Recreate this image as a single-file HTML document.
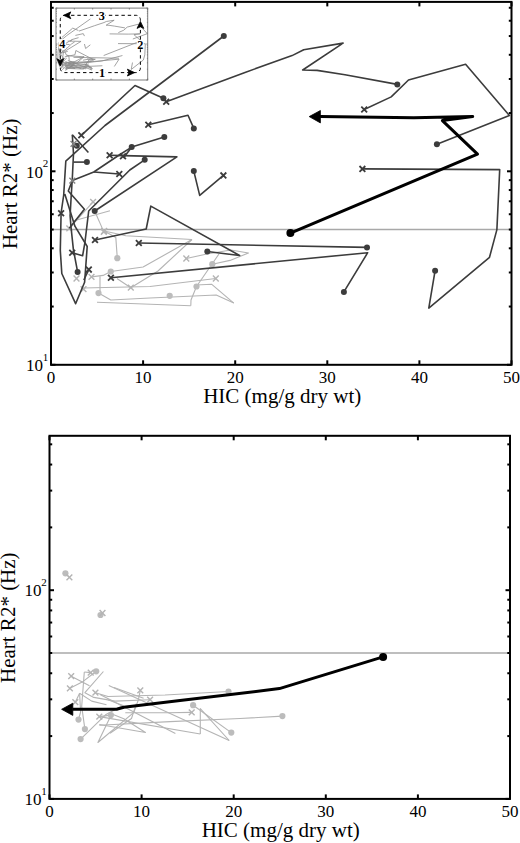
<!DOCTYPE html>
<html><head><meta charset="utf-8"><style>
html,body{margin:0;padding:0;background:#fff;}
svg{display:block;}
.ax{stroke:#000;stroke-width:2;fill:none;}
.tl{font-family:"Liberation Serif", serif;font-size:17px;fill:#000;}
.sup{font-family:"Liberation Serif", serif;font-size:11px;fill:#000;}
.al{font-family:"Liberation Serif", serif;font-size:21px;fill:#000;}
.il{font-family:"Liberation Serif", serif;font-size:12.2px;font-weight:bold;fill:#000;}
.ref{stroke:#a8a8a8;stroke-width:1.6;}
.dk{stroke:#3c3c3c;stroke-width:1.6;fill:none;stroke-linejoin:round;}
.dkd{fill:#3c3c3c;}
.dkx{stroke:#3c3c3c;stroke-width:1.8;fill:none;}
.gx{stroke:#808080;stroke-width:1.4;fill:none;}
.lt{stroke:#b4b4b4;stroke-width:1.1;fill:none;stroke-linejoin:round;}
.ltd{fill:#bcbcbc;}
.ltx{stroke:#b4b4b4;stroke-width:1.4;fill:none;}
.thick{stroke:#000;stroke-width:3;fill:none;stroke-linejoin:round;}
.ah{fill:#000;stroke:#000;stroke-width:0.8;stroke-linejoin:round;}
.ins{stroke:#8c8c8c;stroke-width:0.8;fill:none;}
.dash{stroke:#000;stroke-width:1;fill:none;stroke-dasharray:3.4 2.9;}
</style></head><body>
<svg width="520" height="843" viewBox="0 0 520 843">
<defs><clipPath id="insclip"><rect x="56" y="8.1" width="91.7" height="71.9"/></clipPath></defs>
<rect width="520" height="843" fill="#fff"/>
<line x1="51.00" y1="229.55" x2="511.50" y2="229.55" class="ref"/>
<polyline points="93.10,201.90 69.30,228.30" class="lt"/>
<polyline points="73.00,221.00 110.00,210.80" class="lt"/>
<polyline points="94.70,211.00 103.80,231.90" class="lt"/>
<polyline points="104.20,231.00 115.80,237.40 117.30,258.20" class="lt"/>
<polyline points="104.20,231.00 125.80,235.80 192.00,239.50" class="lt"/>
<polyline points="192.00,239.50 143.10,267.00 110.80,271.50 103.10,275.40 91.50,276.90" class="lt"/>
<polyline points="192.00,239.50 158.00,271.00 130.80,287.70 116.90,278.50" class="lt"/>
<polyline points="186.30,258.50 207.00,254.00 230.80,250.00 248.50,253.00 230.00,260.40 212.30,264.20" class="lt"/>
<polyline points="219.00,254.00 196.50,286.50 191.00,300.00 190.80,305.80" class="lt"/>
<polyline points="83.00,288.00 150.00,286.50 215.80,278.50" class="lt"/>
<polyline points="196.20,285.00 211.50,284.20 233.80,303.10" class="lt"/>
<polyline points="98.50,293.10 110.80,300.00 150.00,298.00 216.20,295.00 233.80,303.10" class="lt"/>
<polyline points="97.00,302.30 190.80,305.80" class="lt"/>
<polyline points="100.00,276.20 100.00,290.80 98.50,293.10" class="lt"/>
<circle cx="117.3" cy="258.2" r="3.1" class="ltd"/>
<circle cx="110.8" cy="271.5" r="3.1" class="ltd"/>
<circle cx="98.5" cy="293.1" r="3.1" class="ltd"/>
<circle cx="169.7" cy="295.8" r="3.1" class="ltd"/>
<circle cx="212.3" cy="264.2" r="3.1" class="ltd"/>
<circle cx="196.5" cy="286.5" r="3.1" class="ltd"/>
<path d="M90.20,199.00L96.00,204.80M90.20,204.80L96.00,199.00" class="ltx"/>
<path d="M66.40,225.40L72.20,231.20M66.40,231.20L72.20,225.40" class="ltx"/>
<path d="M100.90,229.00L106.70,234.80M100.90,234.80L106.70,229.00" class="ltx"/>
<path d="M101.30,228.10L107.10,233.90M101.30,233.90L107.10,228.10" class="ltx"/>
<path d="M88.60,274.00L94.40,279.80M88.60,279.80L94.40,274.00" class="ltx"/>
<path d="M127.90,284.80L133.70,290.60M127.90,290.60L133.70,284.80" class="ltx"/>
<path d="M183.40,255.60L189.20,261.40M183.40,261.40L189.20,255.60" class="ltx"/>
<path d="M212.90,275.60L218.70,281.40M212.90,281.40L218.70,275.60" class="ltx"/>
<path d="M73.60,275.60L79.40,281.40M73.60,281.40L79.40,275.60" class="ltx"/>
<path d="M80.60,286.30L86.40,292.10M80.60,292.10L86.40,286.30" class="ltx"/>
<polyline points="81.30,135.30 135.00,85.50 163.40,98.20" class="dk"/>
<polyline points="223.80,36.00 105.00,125.50 65.80,161.20 63.70,195.00 61.10,213.00 60.30,250.40 61.80,273.50 75.60,303.70 84.60,282.30 85.70,267.30 87.20,246.50 74.90,226.20 64.80,194.00" class="dk"/>
<polyline points="72.30,134.70 73.50,153.50 72.30,178.80 71.20,196.00 70.10,215.80 71.00,227.00 73.40,249.60 77.60,271.90" class="dk"/>
<polyline points="72.30,134.70 88.40,152.50" class="dk"/>
<polyline points="73.50,162.10 86.90,162.10" class="dk"/>
<polyline points="164.30,136.90 131.70,147.10 119.20,155.00 93.80,172.00 85.00,175.40 72.30,180.60 68.30,191.00 84.40,209.30 69.30,228.30" class="dk"/>
<polyline points="109.60,155.20 123.10,155.60 176.90,156.90 94.70,211.00" class="dk"/>
<polyline points="123.50,158.00 131.70,147.10" class="dk"/>
<polyline points="119.30,174.00 93.80,172.00" class="dk"/>
<polyline points="144.70,159.80 129.80,170.00 88.70,211.00 84.90,242.70 82.60,255.80 72.20,252.70" class="dk"/>
<polyline points="166.20,101.70 245.00,72.40 292.10,55.60 303.70,49.80 343.10,43.10 302.70,70.00 317.10,70.40 345.00,74.80 397.30,84.40" class="dk"/>
<polyline points="364.20,109.50 391.20,96.90 408.50,80.00 465.60,64.20 509.40,115.50 436.90,144.20" class="dk"/>
<polyline points="362.40,168.90 499.70,169.60 496.90,229.60 489.50,257.30 428.80,308.10 435.10,270.70" class="dk"/>
<polyline points="148.30,124.80 188.00,115.30 193.80,128.40" class="dk"/>
<polyline points="193.80,171.10 199.70,195.40 223.40,175.40" class="dk"/>
<polyline points="95.00,240.00 146.20,229.00 150.80,206.10 239.60,255.50 207.30,251.50" class="dk"/>
<polyline points="138.80,243.00 367.00,247.40" class="dk"/>
<polyline points="110.90,277.80 367.70,252.70 343.90,291.90" class="dk"/>
<polyline points="88.80,269.60 83.80,280.00" class="dk"/>
<circle cx="223.8" cy="36" r="3" class="dkd"/>
<circle cx="163.4" cy="98.2" r="3" class="dkd"/>
<circle cx="397.3" cy="84.4" r="3" class="dkd"/>
<circle cx="436.9" cy="144.2" r="3" class="dkd"/>
<circle cx="435.1" cy="270.7" r="3" class="dkd"/>
<circle cx="193.8" cy="128.4" r="3" class="dkd"/>
<circle cx="164.3" cy="136.9" r="3" class="dkd"/>
<circle cx="131.7" cy="147.1" r="3" class="dkd"/>
<circle cx="144.7" cy="159.8" r="3" class="dkd"/>
<circle cx="86.9" cy="162.1" r="3" class="dkd"/>
<circle cx="76.8" cy="145.8" r="3" class="dkd"/>
<circle cx="94.7" cy="211" r="3" class="dkd"/>
<circle cx="77.6" cy="271.9" r="3" class="dkd"/>
<circle cx="193.8" cy="171.1" r="3" class="dkd"/>
<circle cx="207.3" cy="251.5" r="3" class="dkd"/>
<circle cx="367" cy="247.4" r="3" class="dkd"/>
<circle cx="343.9" cy="291.9" r="3" class="dkd"/>
<path d="M120.10,153.30L125.90,159.10M120.10,159.10L125.90,153.30" class="dkx"/>
<path d="M78.40,132.40L84.20,138.20M78.40,138.20L84.20,132.40" class="dkx"/>
<path d="M163.30,98.80L169.10,104.60M163.30,104.60L169.10,98.80" class="dkx"/>
<path d="M361.30,106.60L367.10,112.40M361.30,112.40L367.10,106.60" class="dkx"/>
<path d="M359.50,166.00L365.30,171.80M359.50,171.80L365.30,166.00" class="dkx"/>
<path d="M145.40,121.90L151.20,127.70M145.40,127.70L151.20,121.90" class="dkx"/>
<path d="M106.70,152.30L112.50,158.10M106.70,158.10L112.50,152.30" class="dkx"/>
<path d="M116.40,171.10L122.20,176.90M116.40,176.90L122.20,171.10" class="dkx"/>
<path d="M220.50,172.50L226.30,178.30M220.50,178.30L226.30,172.50" class="dkx"/>
<path d="M58.20,210.30L64.00,216.10M58.20,216.10L64.00,210.30" class="dkx"/>
<path d="M69.30,249.80L75.10,255.60M69.30,255.60L75.10,249.80" class="dkx"/>
<path d="M92.10,237.10L97.90,242.90M92.10,242.90L97.90,237.10" class="dkx"/>
<path d="M135.90,240.10L141.70,245.90M135.90,245.90L141.70,240.10" class="dkx"/>
<path d="M108.00,274.90L113.80,280.70M108.00,280.70L113.80,274.90" class="dkx"/>
<path d="M85.90,266.70L91.70,272.50M85.90,272.50L91.70,266.70" class="dkx"/>
<path d="M69.40,177.70L75.20,183.50M69.40,183.50L75.20,177.70" class="gx"/>
<path d="M70.60,140.90L76.40,146.70M70.60,146.70L76.40,140.90" class="gx"/>
<polyline points="290.40,233.10 477.50,154.20 442.40,120.60 472.70,116.40 413.80,117.80 320.00,116.60" class="thick"/>
<path d="M309.2,116.6 L320.4,110.5 L320.4,122.89999999999999 Z" class="ah"/>
<circle cx="290.4" cy="233.1" r="4" fill="#000"/>
<rect x="56.0" y="8.1" width="91.69999999999999" height="71.9" fill="#fff" stroke="#7c7c7c" stroke-width="1"/>
<g clip-path="url(#insclip)">
<polyline points="64.38,49.73 59.64,54.64" class="ins"/>
<polyline points="60.38,53.28 67.75,51.39" class="ins"/>
<polyline points="64.70,51.42 66.51,55.31" class="ins"/>
<polyline points="66.59,55.14 68.90,56.33 69.20,60.19" class="ins"/>
<polyline points="66.59,55.14 70.90,56.03 84.08,56.72" class="ins"/>
<polyline points="84.08,56.72 74.34,61.83 67.91,62.66 66.37,63.39 64.06,63.67" class="ins"/>
<polyline points="84.08,56.72 77.31,62.57 71.89,65.67 69.12,63.97" class="ins"/>
<polyline points="82.94,60.25 87.06,59.41 91.80,58.67 95.33,59.23 91.64,60.60 88.12,61.31" class="ins"/>
<polyline points="89.45,59.41 84.97,65.45 83.88,67.96 83.84,69.04" class="ins"/>
<polyline points="62.37,65.73 75.71,65.45 88.82,63.97" class="ins"/>
<polyline points="84.91,65.17 87.96,65.02 92.40,68.54" class="ins"/>
<polyline points="65.46,66.68 67.91,67.96 75.71,67.59 88.90,67.03 92.40,68.54" class="ins"/>
<polyline points="65.16,68.39 83.84,69.04" class="ins"/>
<polyline points="65.76,63.54 65.76,66.25 65.46,66.68" class="ins"/>
<polyline points="62.03,37.36 72.73,28.11 78.38,30.47" class="ins"/>
<polyline points="90.41,18.91 66.75,35.54 58.95,42.17 58.53,48.45 58.01,51.80 57.85,58.74 58.15,63.04 60.90,68.65 62.69,64.67 62.91,61.88 63.21,58.02 60.76,54.25 58.75,48.27" class="ins"/>
<polyline points="60.24,37.25 60.48,40.74 60.24,45.44 60.02,48.64 59.80,52.32 59.98,54.40 60.46,58.60 61.30,62.74" class="ins"/>
<polyline points="60.24,37.25 63.45,40.55" class="ins"/>
<polyline points="60.48,42.34 63.15,42.34" class="ins"/>
<polyline points="78.56,37.66 72.07,39.55 69.58,41.02 64.52,44.18 62.77,44.81 60.24,45.78 59.44,47.71 62.65,51.11 59.64,54.64" class="ins"/>
<polyline points="67.67,41.06 70.36,41.13 81.07,41.37 64.70,51.42" class="ins"/>
<polyline points="70.44,41.58 72.07,39.55" class="ins"/>
<polyline points="69.60,44.55 64.52,44.18" class="ins"/>
<polyline points="74.66,41.91 71.69,43.81 63.51,51.42 62.75,57.31 62.29,59.75 60.22,59.17" class="ins"/>
<polyline points="78.94,31.12 94.63,25.67 104.01,22.55 106.32,21.47 114.17,20.23 106.12,25.23 108.99,25.30 114.54,26.12 124.96,27.90" class="ins"/>
<polyline points="118.37,32.57 123.74,30.22 127.19,27.08 138.56,24.15 147.28,33.68 132.84,39.01" class="ins"/>
<polyline points="118.01,43.60 145.35,43.73 144.79,54.88 143.32,60.03 131.23,69.47 132.49,62.52" class="ins"/>
<polyline points="75.38,35.41 83.28,33.64 84.44,36.08" class="ins"/>
<polyline points="84.44,44.01 85.61,48.53 90.33,44.81" class="ins"/>
<polyline points="64.76,56.81 74.96,54.77 75.87,50.51 93.56,59.69 87.12,58.95" class="ins"/>
<polyline points="73.48,57.37 118.93,58.19" class="ins"/>
<polyline points="67.93,63.84 119.06,59.17 114.33,66.46" class="ins"/>
<polyline points="63.53,62.31 62.53,64.24" class="ins"/>
<polyline points="103.67,55.53 140.93,40.87 133.94,34.63 139.97,33.85 128.24,34.11 109.57,33.88" class="ins"/>
<polyline points="59.17,41.14 59.96,41.83" class="ins"/>
<polyline points="66.16,48.32 66.55,47.98" class="ins"/>
<polyline points="60.06,60.95 62.51,59.88 65.30,58.02" class="ins"/>
<polyline points="60.32,58.86 63.97,60.52" class="ins"/>
<polyline points="62.93,58.14 64.20,58.24" class="ins"/>
<polyline points="62.93,58.14 62.41,64.07 63.05,67.98" class="ins"/>
<polyline points="66.73,58.05 63.05,61.71 64.82,62.52 69.04,63.15 76.03,62.91" class="ins"/>
<polyline points="61.99,61.79 64.40,63.15 67.35,63.79" class="ins"/>
<polyline points="61.99,61.79 62.19,65.03 61.77,66.34" class="ins"/>
<polyline points="61.14,63.34 61.99,61.79" class="ins"/>
<polyline points="65.14,61.71 67.65,62.36 79.00,62.10 91.64,61.50" class="ins"/>
<polyline points="67.81,60.45 91.78,69.94" class="ins"/>
<polyline points="66.06,62.02 81.07,68.72" class="ins"/>
<polyline points="65.92,65.82 86.03,68.82" class="ins"/>
<polyline points="74.08,61.31 73.68,62.96 72.81,65.08 65.64,70.28 68.07,65.94" class="ins"/>
<polyline points="62.19,69.70 67.15,65.51 70.64,63.89 67.65,62.91" class="ins"/>
<polyline points="65.92,65.82 68.23,65.56" class="ins"/>
<polyline points="65.92,67.18 75.12,68.56 70.80,66.19 67.93,65.20" class="ins"/>
<polyline points="65.92,67.30 80.00,66.68 93.93,66.15 102.38,65.74" class="ins"/>
<polyline points="71.09,65.15 79.60,65.15 84.32,65.10" class="ins"/>
<polyline points="86.03,68.82 86.03,64.45 91.78,69.94" class="ins"/>
<polyline points="84.60,63.86 92.20,68.58" class="ins"/>
<polyline points="68.05,68.70 72.33,66.15 73.28,63.60" class="ins"/>
<polyline points="68.84,60.81 74.74,62.67" class="ins"/>
<polyline points="122.43,55.54 101.78,61.00 81.99,63.05 70.80,64.20 69.36,64.57 60.58,64.57" class="ins"/>
</g>
<path d="M56.00,80.00v-1.4M56.00,8.10v1.4M74.34,80.00v-1.4M74.34,8.10v1.4M92.68,80.00v-1.4M92.68,8.10v1.4M111.02,80.00v-1.4M111.02,8.10v1.4M129.36,80.00v-1.4M129.36,8.10v1.4M147.70,80.00v-1.4M147.70,8.10v1.4M56.00,80.00h1.4M147.70,80.00h-1.4M56.00,69.18h0.8M147.70,69.18h-0.8M56.00,62.85h0.8M147.70,62.85h-0.8M56.00,58.36h0.8M147.70,58.36h-0.8M56.00,54.87h0.8M147.70,54.87h-0.8M56.00,52.03h0.8M147.70,52.03h-0.8M56.00,49.62h0.8M147.70,49.62h-0.8M56.00,47.53h0.8M147.70,47.53h-0.8M56.00,45.69h0.8M147.70,45.69h-0.8M56.00,44.05h1.4M147.70,44.05h-1.4M56.00,33.23h0.8M147.70,33.23h-0.8M56.00,26.90h0.8M147.70,26.90h-0.8M56.00,22.41h0.8M147.70,22.41h-0.8M56.00,18.92h0.8M147.70,18.92h-0.8M56.00,16.08h0.8M147.70,16.08h-0.8M56.00,13.67h0.8M147.70,13.67h-0.8M56.00,11.58h0.8M147.70,11.58h-0.8M56.00,9.74h0.8M147.70,9.74h-0.8M56.00,8.10h1.4M147.70,8.10h-1.4" stroke="#6a6a6a" stroke-width="0.8" fill="none"/>
<rect x="60.25" y="15.3" width="80.15" height="57.3" rx="4.5" ry="4.5" class="dash"/>
<path d="M63.6,15.3 L70.8,11.9 L69.2,15.3 L70.8,18.7 Z" class="ah"/>
<path d="M140.4,21.4 L137,28.4 L140.4,26.8 L143.8,28.4 Z" class="ah"/>
<path d="M134.6,72.6 L127.4,69.2 L129,72.6 L127.4,76 Z" class="ah"/>
<path d="M60.25,66 L56.9,58.8 L60.25,60.4 L63.6,58.8 Z" class="ah"/>
<rect x="98.30000000000001" y="11.700000000000001" width="7.2" height="9.2" fill="#fff"/>
<text x="101.9" y="20.3" class="il" text-anchor="middle">3</text>
<rect x="136.70000000000002" y="40.1" width="7.2" height="9.2" fill="#fff"/>
<text x="140.3" y="48.7" class="il" text-anchor="middle">2</text>
<rect x="98.4" y="68.0" width="7.2" height="9.2" fill="#fff"/>
<text x="102" y="76.6" class="il" text-anchor="middle">1</text>
<rect x="58.699999999999996" y="39.1" width="7.2" height="9.2" fill="#fff"/>
<text x="62.3" y="47.7" class="il" text-anchor="middle">4</text>
<line x1="51.00" y1="364.80" x2="51.00" y2="360.30" class="ax"/>
<line x1="51.00" y1="1.90" x2="51.00" y2="6.40" class="ax"/>
<line x1="143.10" y1="364.80" x2="143.10" y2="360.30" class="ax"/>
<line x1="143.10" y1="1.90" x2="143.10" y2="6.40" class="ax"/>
<line x1="235.20" y1="364.80" x2="235.20" y2="360.30" class="ax"/>
<line x1="235.20" y1="1.90" x2="235.20" y2="6.40" class="ax"/>
<line x1="327.30" y1="364.80" x2="327.30" y2="360.30" class="ax"/>
<line x1="327.30" y1="1.90" x2="327.30" y2="6.40" class="ax"/>
<line x1="419.40" y1="364.80" x2="419.40" y2="360.30" class="ax"/>
<line x1="419.40" y1="1.90" x2="419.40" y2="6.40" class="ax"/>
<line x1="511.50" y1="364.80" x2="511.50" y2="360.30" class="ax"/>
<line x1="511.50" y1="1.90" x2="511.50" y2="6.40" class="ax"/>
<line x1="51.00" y1="364.80" x2="55.50" y2="364.80" class="ax"/>
<line x1="511.50" y1="364.80" x2="507.00" y2="364.80" class="ax"/>
<line x1="51.00" y1="171.30" x2="55.50" y2="171.30" class="ax"/>
<line x1="511.50" y1="171.30" x2="507.00" y2="171.30" class="ax"/>
<line x1="51.00" y1="306.55" x2="53.70" y2="306.55" class="ax"/>
<line x1="511.50" y1="306.55" x2="508.80" y2="306.55" class="ax"/>
<line x1="51.00" y1="272.48" x2="53.70" y2="272.48" class="ax"/>
<line x1="511.50" y1="272.48" x2="508.80" y2="272.48" class="ax"/>
<line x1="51.00" y1="248.30" x2="53.70" y2="248.30" class="ax"/>
<line x1="511.50" y1="248.30" x2="508.80" y2="248.30" class="ax"/>
<line x1="51.00" y1="229.55" x2="53.70" y2="229.55" class="ax"/>
<line x1="511.50" y1="229.55" x2="508.80" y2="229.55" class="ax"/>
<line x1="51.00" y1="214.23" x2="53.70" y2="214.23" class="ax"/>
<line x1="511.50" y1="214.23" x2="508.80" y2="214.23" class="ax"/>
<line x1="51.00" y1="201.27" x2="53.70" y2="201.27" class="ax"/>
<line x1="511.50" y1="201.27" x2="508.80" y2="201.27" class="ax"/>
<line x1="51.00" y1="190.05" x2="53.70" y2="190.05" class="ax"/>
<line x1="511.50" y1="190.05" x2="508.80" y2="190.05" class="ax"/>
<line x1="51.00" y1="180.15" x2="53.70" y2="180.15" class="ax"/>
<line x1="511.50" y1="180.15" x2="508.80" y2="180.15" class="ax"/>
<line x1="51.00" y1="113.05" x2="53.70" y2="113.05" class="ax"/>
<line x1="511.50" y1="113.05" x2="508.80" y2="113.05" class="ax"/>
<line x1="51.00" y1="78.98" x2="53.70" y2="78.98" class="ax"/>
<line x1="511.50" y1="78.98" x2="508.80" y2="78.98" class="ax"/>
<line x1="51.00" y1="54.80" x2="53.70" y2="54.80" class="ax"/>
<line x1="511.50" y1="54.80" x2="508.80" y2="54.80" class="ax"/>
<line x1="51.00" y1="36.05" x2="53.70" y2="36.05" class="ax"/>
<line x1="511.50" y1="36.05" x2="508.80" y2="36.05" class="ax"/>
<line x1="51.00" y1="20.73" x2="53.70" y2="20.73" class="ax"/>
<line x1="511.50" y1="20.73" x2="508.80" y2="20.73" class="ax"/>
<line x1="51.00" y1="7.77" x2="53.70" y2="7.77" class="ax"/>
<line x1="511.50" y1="7.77" x2="508.80" y2="7.77" class="ax"/>
<rect x="51.00" y="1.90" width="460.50" height="362.90" class="ax" fill="none"/>
<text x="51.00" y="382.90" class="tl" text-anchor="middle">0</text>
<text x="143.10" y="382.90" class="tl" text-anchor="middle">10</text>
<text x="235.20" y="382.90" class="tl" text-anchor="middle">20</text>
<text x="327.30" y="382.90" class="tl" text-anchor="middle">30</text>
<text x="419.40" y="382.90" class="tl" text-anchor="middle">40</text>
<text x="511.50" y="382.90" class="tl" text-anchor="middle">50</text>
<text x="43.10" y="371.00" class="tl" text-anchor="end">10</text>
<text x="42.80" y="360.80" class="sup">1</text>
<text x="43.10" y="177.50" class="tl" text-anchor="end">10</text>
<text x="42.80" y="167.30" class="sup">2</text>
<text x="203.20" y="403.40" class="al">HIC (mg/g dry wt)</text>
<text transform="translate(16.70,183.80) rotate(-90)" class="al" text-anchor="middle">Heart R2* (Hz)</text>
<line x1="49.50" y1="653.02" x2="510.00" y2="653.02" class="ref"/>
<polyline points="65.40,573.30 69.40,577.30" class="lt"/>
<polyline points="100.50,615.00 102.50,613.00" class="lt"/>
<polyline points="69.90,688.30 82.20,682.10 96.20,671.30" class="lt"/>
<polyline points="71.20,676.20 89.50,685.80" class="lt"/>
<polyline points="84.30,672.00 90.70,672.60" class="lt"/>
<polyline points="84.30,672.00 81.70,706.40 84.90,729.10" class="lt"/>
<polyline points="103.40,671.50 84.90,692.70 93.80,697.40 115.00,701.10 150.10,699.70" class="lt"/>
<polyline points="79.60,693.20 91.70,701.10 106.50,704.80" class="lt"/>
<polyline points="79.60,693.20 80.60,712.00 78.50,719.60" class="lt"/>
<polyline points="75.30,702.20 79.60,693.20" class="lt"/>
<polyline points="95.40,692.70 108.00,696.50 165.00,695.00 228.50,691.50" class="lt"/>
<polyline points="108.80,685.40 229.20,740.50" class="lt"/>
<polyline points="100.00,694.50 175.40,733.40" class="lt"/>
<polyline points="99.30,716.60 200.30,734.00" class="lt"/>
<polyline points="140.30,690.40 138.30,700.00 133.90,712.30 97.90,742.50 110.10,717.30" class="lt"/>
<polyline points="80.60,739.10 105.50,714.80 123.00,705.40 108.00,699.70" class="lt"/>
<polyline points="99.30,716.60 110.90,715.10" class="lt"/>
<polyline points="99.30,724.50 145.50,732.50 123.80,718.75 109.40,713.00" class="lt"/>
<polyline points="99.30,725.20 170.00,721.60 240.00,718.50 282.40,716.10" class="lt"/>
<polyline points="125.30,712.70 168.00,712.70 191.70,712.40" class="lt"/>
<polyline points="200.30,734.00 200.30,708.60 229.20,740.50" class="lt"/>
<polyline points="193.10,705.20 231.30,732.60" class="lt"/>
<polyline points="110.00,733.30 131.50,718.50 136.30,703.70" class="lt"/>
<polyline points="114.00,687.50 143.60,698.30" class="lt"/>
<circle cx="65.4" cy="573.3" r="3.1" class="ltd"/>
<circle cx="100.5" cy="615" r="3.1" class="ltd"/>
<circle cx="96.2" cy="671.3" r="3.1" class="ltd"/>
<circle cx="78.5" cy="719.6" r="3.1" class="ltd"/>
<circle cx="84.9" cy="729.1" r="3.1" class="ltd"/>
<circle cx="80.6" cy="739.1" r="3.1" class="ltd"/>
<circle cx="110.9" cy="715.1" r="3.1" class="ltd"/>
<circle cx="193.1" cy="705.2" r="3.1" class="ltd"/>
<circle cx="228.5" cy="691.5" r="3.1" class="ltd"/>
<circle cx="231.3" cy="732.6" r="3.1" class="ltd"/>
<circle cx="282.4" cy="716.1" r="3.1" class="ltd"/>
<path d="M66.50,574.40L72.30,580.20M66.50,580.20L72.30,574.40" class="ltx"/>
<path d="M99.60,610.10L105.40,615.90M99.60,615.90L105.40,610.10" class="ltx"/>
<path d="M68.30,673.30L74.10,679.10M68.30,679.10L74.10,673.30" class="ltx"/>
<path d="M67.00,685.40L72.80,691.20M67.00,691.20L72.80,685.40" class="ltx"/>
<path d="M87.80,669.70L93.60,675.50M87.80,675.50L93.60,669.70" class="ltx"/>
<path d="M92.50,689.80L98.30,695.60M92.50,695.60L98.30,689.80" class="ltx"/>
<path d="M72.40,699.30L78.20,705.10M72.40,705.10L78.20,699.30" class="ltx"/>
<path d="M137.40,687.50L143.20,693.30M137.40,693.30L143.20,687.50" class="ltx"/>
<path d="M147.20,696.80L153.00,702.60M147.20,702.60L153.00,696.80" class="ltx"/>
<path d="M96.40,713.70L102.20,719.50M96.40,719.50L102.20,713.70" class="ltx"/>
<path d="M188.80,709.50L194.60,715.30M188.80,715.30L194.60,709.50" class="ltx"/>
<polyline points="383.10,656.90 279.40,688.60 180.00,700.50 123.80,707.20 116.60,709.30 72.50,709.30" class="thick"/>
<path d="M61.6,709.3 L72.8,703.1999999999999 L72.8,715.4 Z" class="ah"/>
<circle cx="383.1" cy="656.9" r="4" fill="#000"/>
<line x1="49.50" y1="798.90" x2="49.50" y2="794.40" class="ax"/>
<line x1="49.50" y1="435.80" x2="49.50" y2="440.30" class="ax"/>
<line x1="141.60" y1="798.90" x2="141.60" y2="794.40" class="ax"/>
<line x1="141.60" y1="435.80" x2="141.60" y2="440.30" class="ax"/>
<line x1="233.70" y1="798.90" x2="233.70" y2="794.40" class="ax"/>
<line x1="233.70" y1="435.80" x2="233.70" y2="440.30" class="ax"/>
<line x1="325.80" y1="798.90" x2="325.80" y2="794.40" class="ax"/>
<line x1="325.80" y1="435.80" x2="325.80" y2="440.30" class="ax"/>
<line x1="417.90" y1="798.90" x2="417.90" y2="794.40" class="ax"/>
<line x1="417.90" y1="435.80" x2="417.90" y2="440.30" class="ax"/>
<line x1="510.00" y1="798.90" x2="510.00" y2="794.40" class="ax"/>
<line x1="510.00" y1="435.80" x2="510.00" y2="440.30" class="ax"/>
<line x1="49.50" y1="798.90" x2="54.00" y2="798.90" class="ax"/>
<line x1="510.00" y1="798.90" x2="505.50" y2="798.90" class="ax"/>
<line x1="49.50" y1="590.20" x2="54.00" y2="590.20" class="ax"/>
<line x1="510.00" y1="590.20" x2="505.50" y2="590.20" class="ax"/>
<line x1="49.50" y1="736.08" x2="52.20" y2="736.08" class="ax"/>
<line x1="510.00" y1="736.08" x2="507.30" y2="736.08" class="ax"/>
<line x1="49.50" y1="699.32" x2="52.20" y2="699.32" class="ax"/>
<line x1="510.00" y1="699.32" x2="507.30" y2="699.32" class="ax"/>
<line x1="49.50" y1="673.25" x2="52.20" y2="673.25" class="ax"/>
<line x1="510.00" y1="673.25" x2="507.30" y2="673.25" class="ax"/>
<line x1="49.50" y1="653.02" x2="52.20" y2="653.02" class="ax"/>
<line x1="510.00" y1="653.02" x2="507.30" y2="653.02" class="ax"/>
<line x1="49.50" y1="636.50" x2="52.20" y2="636.50" class="ax"/>
<line x1="510.00" y1="636.50" x2="507.30" y2="636.50" class="ax"/>
<line x1="49.50" y1="622.53" x2="52.20" y2="622.53" class="ax"/>
<line x1="510.00" y1="622.53" x2="507.30" y2="622.53" class="ax"/>
<line x1="49.50" y1="610.43" x2="52.20" y2="610.43" class="ax"/>
<line x1="510.00" y1="610.43" x2="507.30" y2="610.43" class="ax"/>
<line x1="49.50" y1="599.75" x2="52.20" y2="599.75" class="ax"/>
<line x1="510.00" y1="599.75" x2="507.30" y2="599.75" class="ax"/>
<line x1="49.50" y1="527.38" x2="52.20" y2="527.38" class="ax"/>
<line x1="510.00" y1="527.38" x2="507.30" y2="527.38" class="ax"/>
<line x1="49.50" y1="490.62" x2="52.20" y2="490.62" class="ax"/>
<line x1="510.00" y1="490.62" x2="507.30" y2="490.62" class="ax"/>
<line x1="49.50" y1="464.55" x2="52.20" y2="464.55" class="ax"/>
<line x1="510.00" y1="464.55" x2="507.30" y2="464.55" class="ax"/>
<line x1="49.50" y1="444.32" x2="52.20" y2="444.32" class="ax"/>
<line x1="510.00" y1="444.32" x2="507.30" y2="444.32" class="ax"/>
<rect x="49.50" y="435.80" width="460.50" height="363.10" class="ax" fill="none"/>
<text x="49.50" y="816.80" class="tl" text-anchor="middle">0</text>
<text x="141.60" y="816.80" class="tl" text-anchor="middle">10</text>
<text x="233.70" y="816.80" class="tl" text-anchor="middle">20</text>
<text x="325.80" y="816.80" class="tl" text-anchor="middle">30</text>
<text x="417.90" y="816.80" class="tl" text-anchor="middle">40</text>
<text x="510.00" y="816.80" class="tl" text-anchor="middle">50</text>
<text x="41.60" y="805.10" class="tl" text-anchor="end">10</text>
<text x="41.30" y="794.90" class="sup">1</text>
<text x="41.60" y="596.40" class="tl" text-anchor="end">10</text>
<text x="41.30" y="586.20" class="sup">2</text>
<text x="201.70" y="837.30" class="al">HIC (mg/g dry wt)</text>
<text transform="translate(15.20,617.70) rotate(-90)" class="al" text-anchor="middle">Heart R2* (Hz)</text>
</svg></body></html>
